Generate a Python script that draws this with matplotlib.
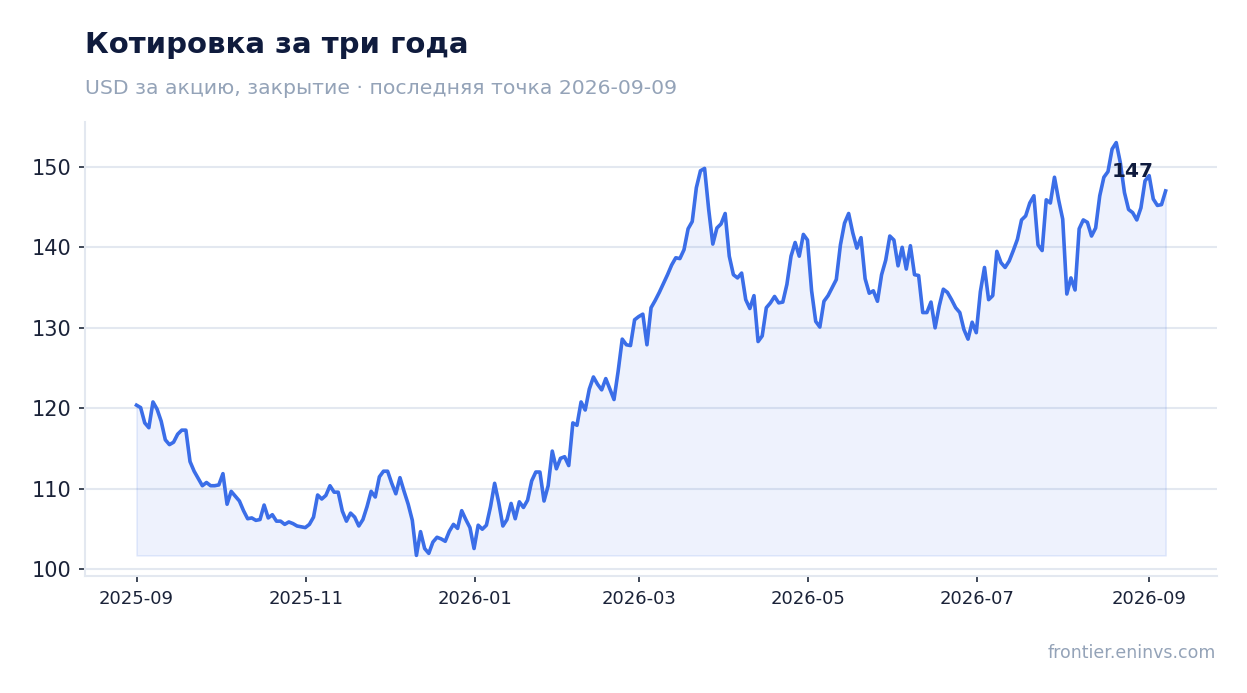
import numpy as np
import pandas as pd
import matplotlib
matplotlib.use("Agg")
import matplotlib.pyplot as plt
import matplotlib.dates as mdates

# closing prices (roughly every trading day)
price = [
    120.4, 120.1, 118.2, 117.6, 120.8, 119.9, 118.4, 116.1, 115.5, 115.8,
    116.8, 117.3, 117.3, 113.4, 112.2, 111.3, 110.4, 110.8, 110.4, 110.4,
    110.5, 111.9, 108.1, 109.7, 109.1, 108.5, 107.3, 106.3, 106.4, 106.1,
    106.2, 108.0, 106.4, 106.8, 106.0, 106.0, 105.6, 105.9, 105.7, 105.4,
    105.3, 105.2, 105.6,
    106.5, 109.25, 108.75, 109.2, 110.4, 109.6, 109.6, 107.25, 106.0, 107.0,
    106.5, 105.4, 106.2, 107.8, 109.7, 109.0, 111.5, 112.2, 112.2, 110.7,
    109.4, 111.4, 109.7, 108.1, 106.1, 101.75, 104.7, 102.6, 102.0, 103.4,
    104.0, 103.8, 103.5, 104.75, 105.6, 105.1, 107.3, 106.2, 105.2, 102.6,
    105.5, 105.0, 105.5, 107.8, 110.7,
    108.3, 105.4, 106.2, 108.2, 106.3, 108.4, 107.7, 108.6, 111.0, 112.1,
    112.1, 108.5, 110.4, 114.7, 112.5, 113.8, 114.0, 112.9, 118.2, 117.9,
    120.8, 119.8, 122.4, 123.9, 123.0, 122.3, 123.7, 122.4, 121.1, 124.6,
    128.6, 127.9, 127.8, 131.0, 131.4, 131.7, 127.9,
    132.5, 133.4, 134.4, 135.5, 136.6, 137.8, 138.7, 138.6, 139.7,
    142.3, 143.2, 147.4, 149.5, 149.8, 144.7, 140.4, 142.4, 142.9, 144.2,
    138.9, 136.6, 136.2, 136.8, 133.5, 132.4, 134.0, 128.3, 129.0, 132.5,
    133.1, 133.9, 133.1, 133.2, 135.4, 138.9, 140.6, 138.9, 141.6, 140.9,
    134.6, 130.8, 130.1,
    133.3, 134.0, 135.0, 136.0, 140.3, 143.0, 144.2, 141.8, 139.9, 141.2,
    136.1, 134.3, 134.6, 133.3, 136.6, 138.4, 141.4, 140.9, 137.7, 140.0,
    137.3, 140.2, 136.6, 136.5, 131.9, 131.9, 133.2, 130.0, 132.7, 134.8,
    134.4, 133.5, 132.5, 131.9, 129.8, 128.6, 130.7, 129.4, 134.5, 137.5,
    133.5,
    134.0, 139.5, 138.1, 137.5, 138.3, 139.6, 141.0, 143.4, 143.9, 145.5,
    146.4, 140.3, 139.6, 145.9, 145.5, 148.7, 145.9, 143.5, 134.2, 136.2,
    134.7, 142.3, 143.4, 143.1, 141.4, 142.4, 146.4, 148.7, 149.4, 152.2,
    153.0, 150.5, 146.8, 144.7, 144.3, 143.4, 144.9, 148.25, 148.9, 146.0,
    145.2, 145.3, 147.0,
]
start_date = "2025-09-01"
end_date = "2026-09-07"
yticks = [100, 110, 120, 130, 140, 150]

title = "Котировка за три года"
subtitle = "USD за акцию, закрытие · последняя точка 2026-09-09"
source = "frontier.eninvs.com"

line_c = "#3b6ee8"
grid_c = "#e3e8f0"
dark = "#0f1b3d"
muted = "#94a3b8"

dates = pd.date_range(start_date, end_date, periods=len(price))
y = np.array(price)

plt.rcParams["font.family"] = ["DejaVu Sans"]

fig = plt.figure(figsize=(12.47, 6.93), dpi=100)
ax = fig.add_axes([0.0682, 0.1688, 0.976 - 0.0682, 0.824 - 0.1688])

ax.fill_between(dates, y, y.min(), facecolor=(0.231, 0.431, 0.91, 0.085),
                edgecolor=(0.231, 0.431, 0.91, 0.12), linewidth=1.2, zorder=1)
ax.plot(dates, y, color=line_c, linewidth=2.6, solid_joinstyle="round", zorder=3)

ax.annotate(f"{y[-1]:.0f}", (dates[-1], y[-1]), xytext=(-8.5, 10),
            textcoords="offset points", ha="right", va="baseline",
            fontsize=14.5, fontweight="bold", color=dark, zorder=4)

ax.set_yticks(yticks)
ax.xaxis.set_major_locator(mdates.MonthLocator(bymonth=[1, 3, 5, 7, 9, 11]))
ax.xaxis.set_major_formatter(mdates.DateFormatter("%Y-%m"))
ax.grid(axis="y", color=grid_c, linewidth=1.5, zorder=0)
ax.set_axisbelow(True)
for s in ["top", "right"]:
    ax.spines[s].set_visible(False)
for s in ["left", "bottom"]:
    ax.spines[s].set_color(grid_c)
    ax.spines[s].set_linewidth(1.5)
ax.tick_params(axis="y", labelsize=15, colors="#1e293b", length=4, width=1.2, pad=6)
ax.tick_params(axis="x", labelsize=13, colors="#1e293b", length=4, width=1.2, pad=6)
for lab in ax.get_xticklabels() + ax.get_yticklabels():
    lab.set_color("#1a2238")

fig.text(0.0682, 0.9235, title, fontsize=21, fontweight="bold", color=dark)
fig.text(0.0682, 0.864, subtitle, fontsize=14.7, color=muted)
fig.text(0.975, 0.0505, source, fontsize=12.5, color=muted, ha="right")

fig.savefig("out.png", dpi=100)
